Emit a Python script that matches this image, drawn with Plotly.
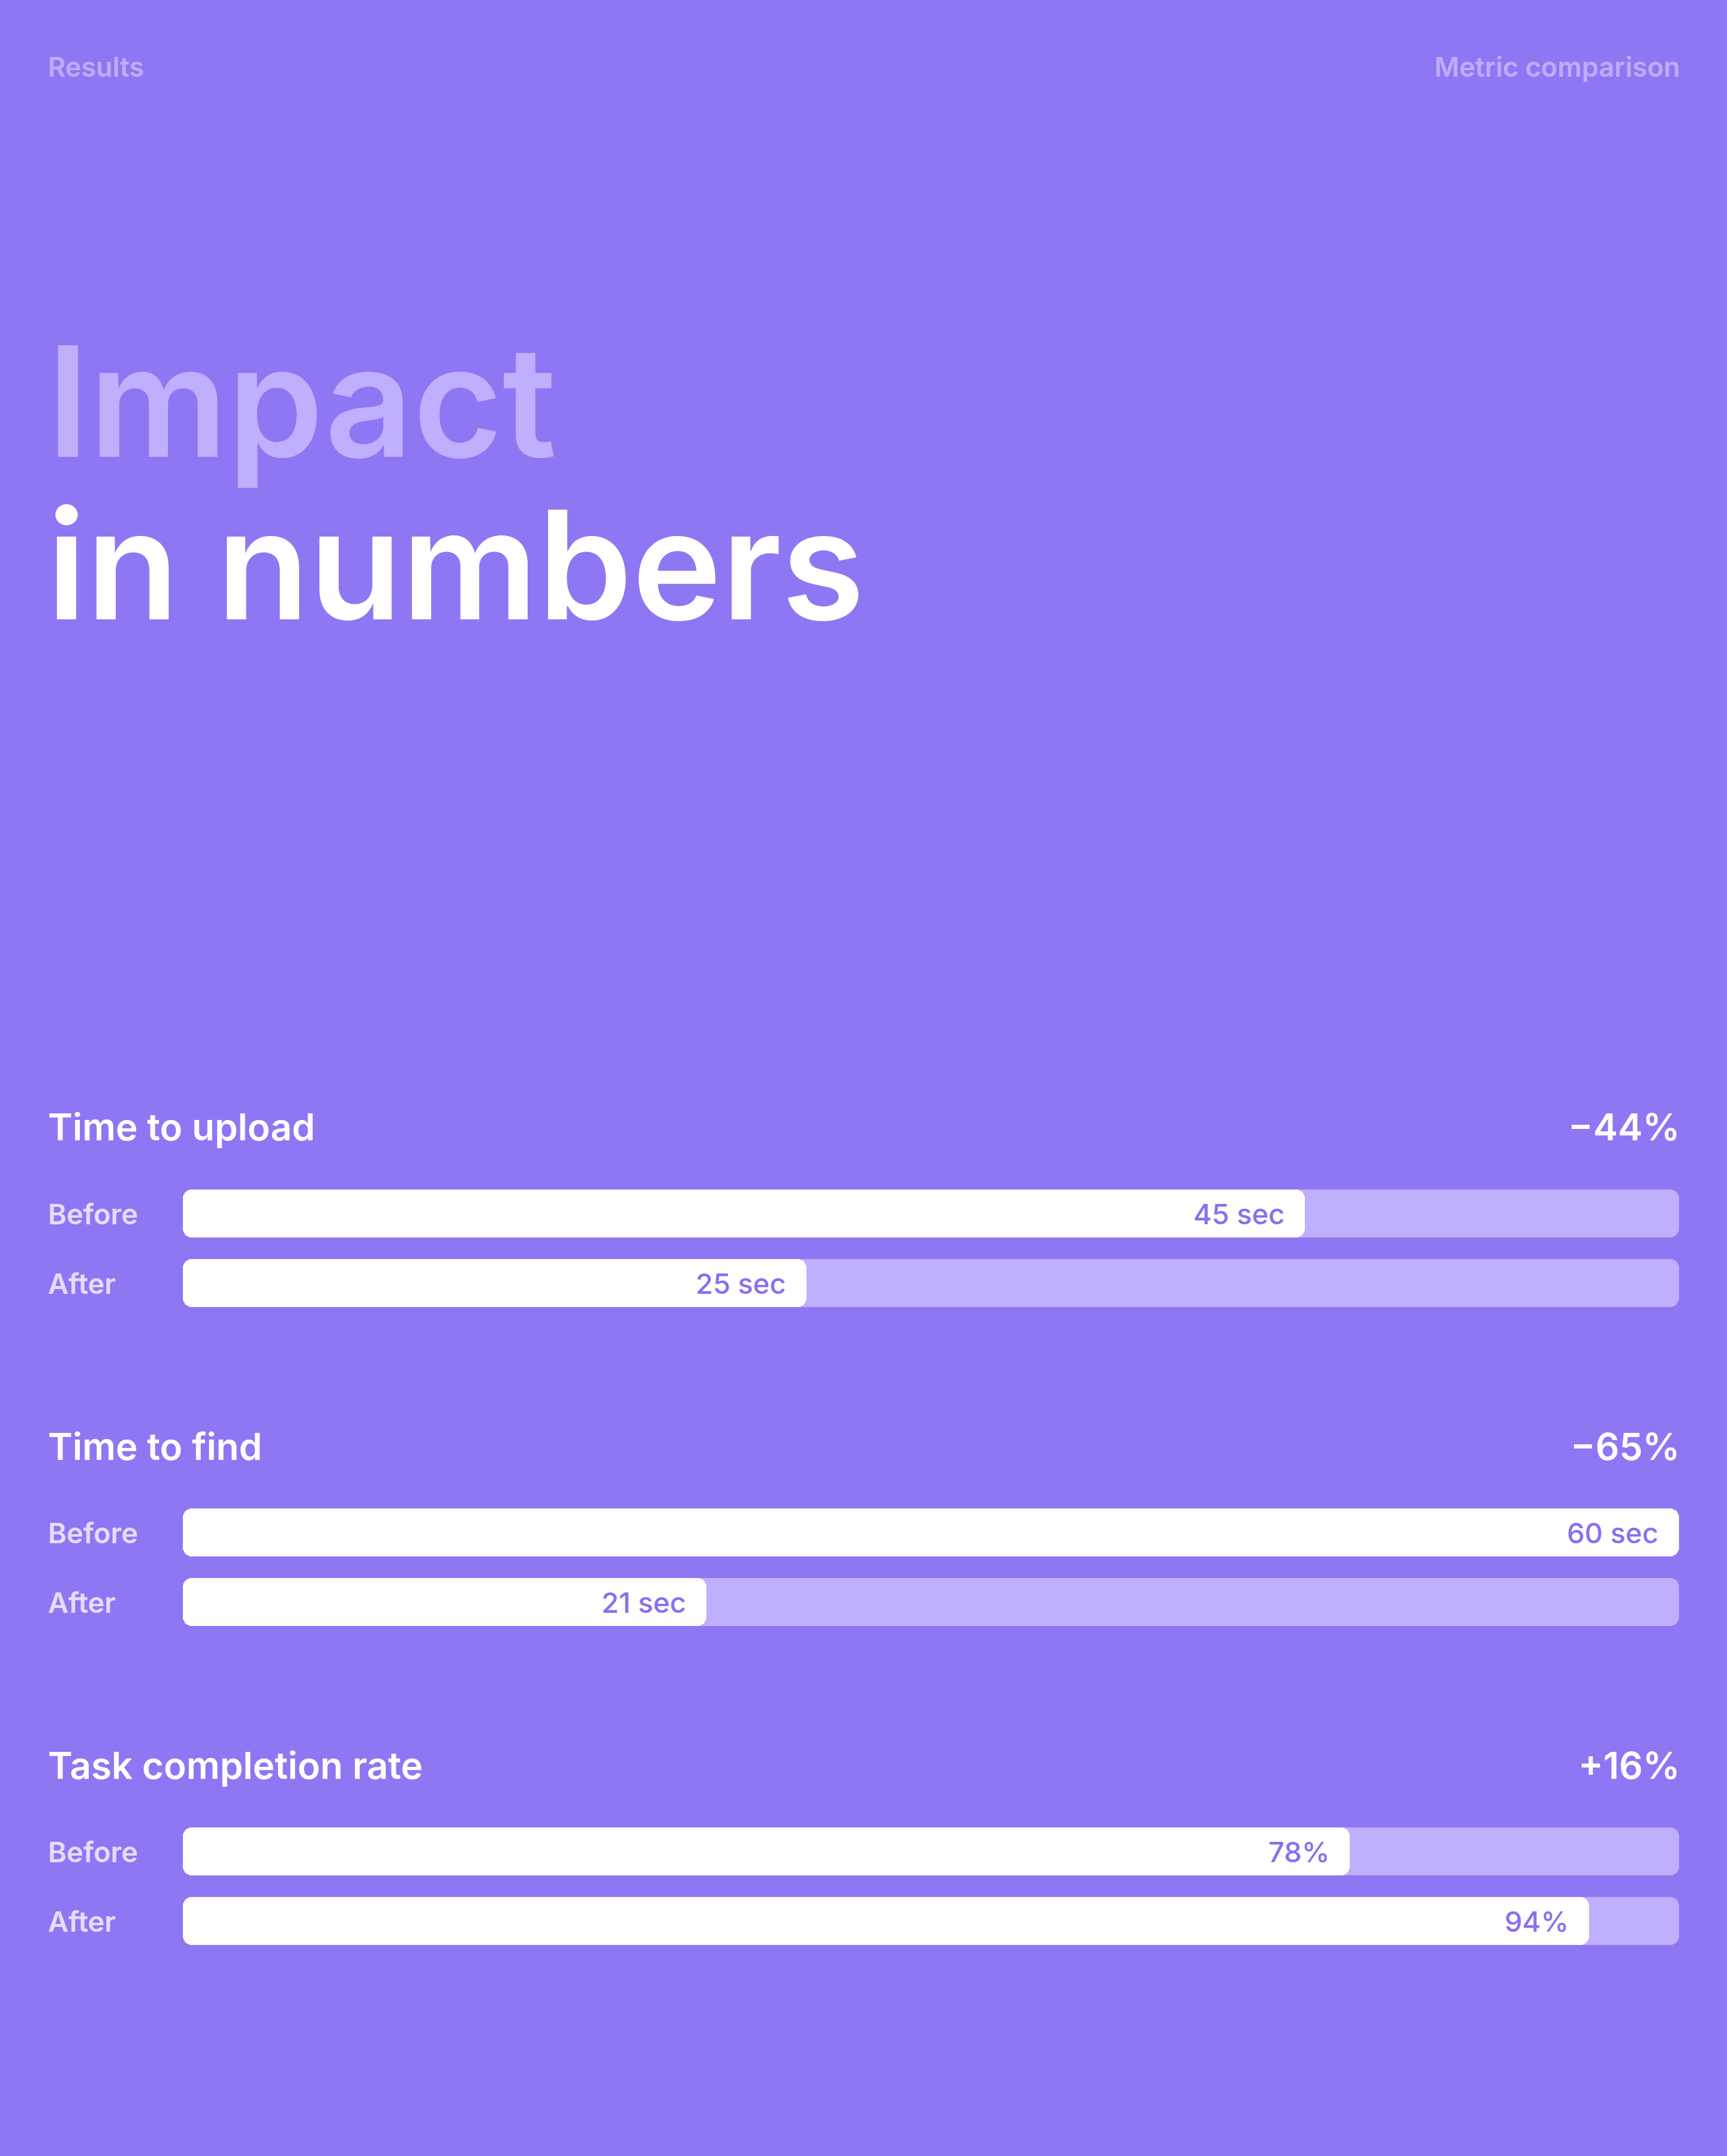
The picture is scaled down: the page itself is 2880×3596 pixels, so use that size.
import plotly.graph_objects as go

# ---------------- data ----------------
header_left = "Results"
header_right = "Metric comparison"
title_line1 = "Impact"
title_line2 = "in numbers"

metrics = ["Time to upload", "Time to find", "Task completion rate"]
changes = ["−44%", "−65%", "+16%"]
phases = ["Before", "After"]
before_values = [45, 60, 78]
after_values = [25, 21, 94]
before_labels = ["45 sec", "60 sec", "78%"]
after_labels = ["25 sec", "21 sec", "94%"]
scale_max = [60, 60, 100]

# ---------------- style ----------------
W, H = 2880, 3596
BG = "#8F77F3"
TRACK = "#BFAFFD"
FILL = "#FFFFFF"
HEAD = "#BDAEFC"
LABEL = "#E4DDFF"
VALUE = "#8A6FEF"
FONT = "Inter"

LEFT, RIGHT = 80, 2800
BAR_X0 = 305
FIRST_BEFORE_C = 2024
BAR_GAP = 116
SECTION_STEP = 532
BAR_H = 80
RADIUS = 15


def px_x(p):
    return p / W


def px_y(p):
    return 1 - p / H


fig = go.Figure()


def rounded_bar(v, phase, color, axn):
    xa = "x" if axn == 1 else f"x{axn}"
    ya = "y" if axn == 1 else f"y{axn}"
    common = dict(orientation="h", y=[phase], xaxis=xa, yaxis=ya,
                  width=BAR_H / BAR_GAP, hoverinfo="skip", showlegend=False,
                  marker=dict(color=color, line=dict(width=0), cornerradius=RADIUS))
    # right part, rounded at the right end
    fig.add_trace(go.Bar(base=[0.25 * v], x=[0.75 * v], **common))
    # left part, drawn leftwards so its rounded end is at zero
    fig.add_trace(go.Bar(base=[0.5 * v], x=[-0.5 * v], **common))


annotations = []
layout_axes = {}

for i, m in enumerate(metrics):
    n = i + 1
    before_c = FIRST_BEFORE_C + SECTION_STEP * i
    after_c = before_c + BAR_GAP
    dom = [px_y(after_c + BAR_GAP / 2), px_y(before_c - BAR_GAP / 2)]
    xk = "xaxis" if n == 1 else f"xaxis{n}"
    yk = "yaxis" if n == 1 else f"yaxis{n}"
    xa = "x" if n == 1 else f"x{n}"
    ya = "y" if n == 1 else f"y{n}"
    layout_axes[xk] = dict(domain=[px_x(BAR_X0), px_x(RIGHT)], range=[0, scale_max[i]],
                           showgrid=False, zeroline=False, showticklabels=False,
                           fixedrange=True, anchor=ya)
    layout_axes[yk] = dict(domain=dom, type="category", categoryorder="array",
                           categoryarray=phases[::-1], range=[-0.5, 1.5],
                           showgrid=False, zeroline=False, showticklabels=False,
                           fixedrange=True, anchor=xa)

    # tracks then fills
    for ph in phases:
        rounded_bar(scale_max[i], ph, TRACK, n)
    rounded_bar(before_values[i], "Before", FILL, n)
    rounded_bar(after_values[i], "After", FILL, n)

    # value labels
    for ph, v, lab in [("Before", before_values[i], before_labels[i]),
                       ("After", after_values[i], after_labels[i])]:
        annotations.append(dict(x=v, y=ph, xref=xa, yref=ya, text=lab,
                                xanchor="right", yanchor="middle", xshift=-32,
                                showarrow=False,
                                font=dict(family=FONT, size=47, color=VALUE, weight=500)))
        annotations.append(dict(x=px_x(LEFT), y=ph, xref="paper", yref=ya, text=ph,
                                xanchor="left", yanchor="middle", xshift=-2, showarrow=False,
                                font=dict(family=FONT, size=47, color=LABEL, weight=600)))

    # section title and change
    ty = px_y(before_c - 144)
    annotations.append(dict(x=px_x(LEFT), y=ty, xref="paper", yref="paper", text=m,
                            xanchor="left", yanchor="middle", xshift=-2, showarrow=False,
                            font=dict(family=FONT, size=62, color="#FFFFFF", weight=600)))
    annotations.append(dict(x=px_x(RIGHT), y=ty, xref="paper", yref="paper", text=changes[i],
                            xanchor="right", yanchor="middle", xshift=4, showarrow=False,
                            font=dict(family=FONT, size=62, color="#FFFFFF", weight=600)))

# header
annotations.append(dict(x=px_x(LEFT), y=px_y(111), xref="paper", yref="paper", text=header_left,
                        xanchor="left", yanchor="middle", xshift=-2, showarrow=False,
                        font=dict(family=FONT, size=45, color=HEAD, weight=600)))
annotations.append(dict(x=px_x(RIGHT), y=px_y(111), xref="paper", yref="paper", text=header_right,
                        xanchor="right", yanchor="middle", xshift=4, showarrow=False,
                        font=dict(family=FONT, size=45, color=HEAD, weight=600)))

# big title
annotations.append(dict(x=px_x(LEFT - 4), y=px_y(669), xref="paper", yref="paper", text=title_line1,
                        xanchor="left", yanchor="middle", showarrow=False,
                        font=dict(family=FONT, size=256, color=TRACK, weight=600)))
annotations.append(dict(x=px_x(LEFT - 4), y=px_y(941), xref="paper", yref="paper", text=title_line2,
                        xanchor="left", yanchor="middle", showarrow=False,
                        font=dict(family=FONT, size=252, color="#FFFFFF", weight=600)))

fig.update_layout(
    width=W, height=H,
    margin=dict(l=0, r=0, t=0, b=0),
    paper_bgcolor=BG, plot_bgcolor="rgba(0,0,0,0)",
    barmode="overlay", bargap=0,
    showlegend=False,
    annotations=annotations,
    **layout_axes,
)

fig.write_html("out.html", config={"displayModeBar": False},
               post_script="document.body.style.margin='0';document.body.style.overflow='hidden';")
